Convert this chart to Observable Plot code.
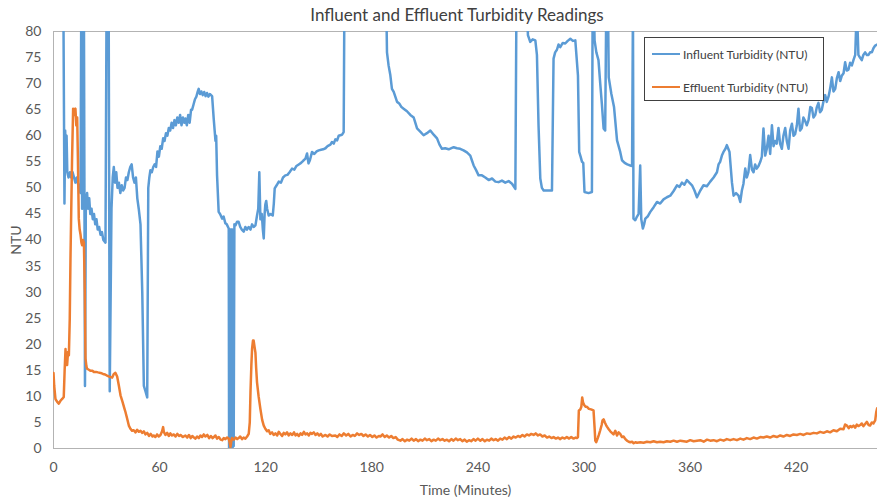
<!DOCTYPE html>
<html>
<head>
<meta charset="utf-8">
<script src="https://cdn.jsdelivr.net/npm/d3@7"></script>
<script src="https://cdn.jsdelivr.net/npm/@observablehq/plot@0.6"></script>
<style>
  html, body { margin: 0; padding: 0; background: #fff; }
  #wrap { position: relative; width: 877px; height: 500px; overflow: hidden; font-family: Lato, "Open Sans", sans-serif; }
  #title { position: absolute; top: 4px; left: 457px; transform: translateX(-50%); white-space: nowrap; font-size: 17px; color: #404040; }
  #legend { position: absolute; left: 644px; top: 37px; width: 180px; height: 64px; border: 1px solid #404040; background: #fff; box-sizing: border-box; }
  .lg-item { position: absolute; left: 7px; height: 14px; display: flex; align-items: center; font-size: 12px; color: #404040; white-space: nowrap; }
  .lg-swatch { width: 28px; height: 2.5px; margin-right: 3px; }
</style>
</head>
<body>
<div id="wrap">
  <div id="chart"></div>
  <div id="title">Influent and Effluent Turbidity Readings</div>
  <div id="legend"></div>
</div>
<script>
const xTicks = [0, 60, 120, 180, 240, 300, 360, 420];
const yTicks = [0, 5, 10, 15, 20, 25, 30, 35, 40, 45, 50, 55, 60, 65, 70, 75, 80];
const seriesNames = ["Influent Turbidity (NTU)", "Effluent Turbidity (NTU)"];
const seriesColors = ["#5b9bd5", "#ed7d31"];

// [minutes, NTU]
const influent = [
[5.6,85],[6.2,47],[6.6,61],[7.0,56],[7.4,60],[7.8,53],[8.5,52],[9.3,53],[10.0,52],[10.8,53],[11.6,52],[12.4,51],[13.2,52],[14.3,50],[15.3,49],
[15.7,85],[16.2,46],[16.6,85],[17.2,85],[17.8,12],[18.3,47],[19.0,49],[19.6,46],[20.2,48],[20.8,45],[21.5,46],[22.2,44],[22.9,45],[23.6,43],[24.3,44],
[25.0,42],[25.8,42.5],[26.6,41],[27.4,41.5],[28.2,40],[29.4,39.5],[30.0,85],[31.2,85],[31.8,11],[32.8,46],[33.5,52],[34.1,54],[34.8,51],[35.5,53],
[36.2,50],[37.0,51],[37.8,49],[38.6,50.5],[39.4,49.5],[40.2,50],[41.0,52],[41.8,51.5],[42.6,53],[43.4,54],[44.2,54.5],[45.0,52],[45.8,51],[46.6,52],
[47.4,48],[48.2,46],[49.2,43],[50.2,30],[51.1,12],[52.0,11],[53.0,9.8],[53.6,50],[54.2,52],[54.8,53.4],[55.6,53],[56.4,54],[57.2,54.5],[58.0,54],
[58.8,57],[59.6,56],[60.4,58],[61.2,57.5],[62.0,59.5],[62.8,59],[63.6,60.5],[64.4,60],[65.2,61.5],[66.0,61],[66.8,62.5],[67.6,61.5],[68.4,63],
[69.2,62],[70.0,63.5],[70.8,62.5],[71.6,64],[72.4,62],[73.2,63.5],[74.0,62.5],[74.6,63.3],[75.4,62],[76.2,64],[77.0,62.5],[77.8,65],[78.4,65],
[79.2,66],[80.0,67],[80.8,67.5],[81.6,68.5],[82.1,69],[82.8,68],[83.6,68.5],[84.4,67.8],[85.2,68.4],[86.0,67.6],[86.8,68.2],[87.6,67.5],[88.4,68],
[89.7,67.6],[90.6,63.3],[91.6,59],[92.0,60],[92.5,52.4],[93.4,45.4],[94.2,45],[95.4,44.1],[96.2,44.5],[97.2,43.2],[98.0,43],[99.1,42.2],
[99.3,0],[99.6,42],[99.8,0],[100.1,42],[100.3,0],[100.6,42],[100.8,0],[101.1,42],[101.3,0],[101.6,42],[101.9,0.5],[102.3,43],[102.9,42.8],[103.8,43.5],[104.7,43.5],[105.6,42.5],[106.5,42],
[107.6,41.6],[108.5,42.5],[109.4,42],[110.4,42.5],[111.4,42],[112.3,43],[113.2,42.5],[114.2,42.8],[115.1,44.7],[115.8,46],[116.4,53],[117.0,44],
[117.8,45],[118.4,42],[118.9,40.3],[119.4,45],[119.8,46.8],[120.3,47.5],[120.8,46],[121.7,44.7],[122.8,45],[124.0,44.7],[124.6,47],[125.1,49.9],
[126.2,50.5],[127.4,51.2],[128.6,51],[129.8,52],[131.1,52.4],[132.3,52.5],[133.5,53],[134.9,53.7],[136.2,53.5],[137.4,54.2],[138.7,54.5],[140.0,54.8],
[141.2,55.2],[142.5,55.6],[143.4,56.6],[144.2,54.7],[145.0,55.3],[146.2,56.9],[147.5,56.5],[148.8,57],[150.0,57.2],[151.3,57.3],[152.5,57.4],[153.8,57.6],
[155.0,58],[156.6,58.3],[157.5,58.8],[158.5,58.5],[159.4,59.3],[160.4,59.1],[161.3,60],[162.2,60.1],[163.2,60.2],[164.1,60.7],[164.5,85],
[188.2,85],[188.6,76],[189.5,73.5],[190.5,71.6],[191.4,69],[192.4,68.4],[193.3,67.5],[194.3,66.5],[195.5,66.2],[196.8,65.5],[198.0,65.2],[199.9,64.7],
[201.8,64],[203.7,63.5],[204.6,62.5],[205.6,61.4],[207.4,60.8],[209.3,60.1],[211.2,60.5],[213.1,61],[215.0,60.2],[216.9,59.5],[218.3,58.3],[219.7,57.5],
[221.5,57.6],[223.5,57.4],[226.3,57.8],[228.2,57.6],[230.0,57.5],[231.9,57.2],[233.8,56.8],[235.7,56.2],[236.6,55.3],[237.6,54.3],[239.0,53.4],[240.4,52.4],
[242.3,52.4],[244.2,52],[246.1,51.5],[248.0,51.8],[249.9,51.2],[251.7,51.1],[253.6,51.4],[255.5,51],[257.4,51.3],[259.3,50.8],[261.2,49.8],[261.8,85],
[267.8,85],[268.3,79.3],[269.6,78],[271.0,78.5],[272.5,78.3],[273.4,75.5],[274.3,62],[275.3,51.8],[276.2,50],[277.2,49.5],[279.5,49.5],[281.9,49.5],
[282.8,74.8],[283.7,76],[284.7,76.5],[285.6,77.5],[286.6,77],[288.0,77.8],[289.4,77.7],[290.8,78.2],[292.3,78.6],[293.7,78.2],[295.1,78.3],[296.6,71.6],
[297.3,56.9],[298.1,56],[298.9,55],[299.6,54.8],[300.3,49.2],[302.6,49],[304.5,49.2],[304.9,85],[305.6,85],[306.0,78.3],[307.0,76],[308.2,74.5],
[309.2,70],[310.1,66.2],[311.1,61.4],[312.0,61],[312.6,85],[313.6,85],[314.0,71.2],[315.5,68],[317.0,65.5],[318.7,59.1],[320.5,56.9],[321.5,55.3],
[323.0,54.8],[324.5,54.5],[326.2,54.3],[327.2,54.2],[327.7,85],[328.0,44.1],[329.0,43.8],[330.0,44.5],[330.9,45],[331.8,54.3],[332.4,44],[333.3,42.2],
[334.0,43],[334.7,44.1],[336.0,44.5],[337.5,45.4],[339.4,46.3],[341.3,47.3],[343.1,47],[345.0,47.8],[346.9,48.2],[348.8,48.5],[350.7,49.4],[352.6,50.5],
[354.0,50.2],[355.4,51],[356.8,50.6],[358.2,51.5],[359.6,51],[361.1,50.5],[362.5,49.5],[363.9,48.2],[365.8,49.5],[367.6,50.5],[369.5,50.3],[371.4,51.2],
[373.3,52],[375.2,53],[376.1,54.5],[377.0,55],[378.0,56.2],[378.9,56.9],[380.0,57.5],[380.8,58.2],[381.6,57.5],[382.3,56.9],[383.7,51],[384.6,48.5],
[386.0,49],[387.4,48.5],[388.4,47.3],[389.3,49.5],[390.2,50.8],[391.2,53.7],[392.1,52],[393.0,53],[394.0,56.3],[395.0,53.5],[395.9,53],[396.8,54.5],
[397.7,53.7],[398.7,54.2],[399.7,55],[400.6,56],[401.5,61.4],[402.5,56.2],[403.4,57.5],[404.4,60],[405.3,56.5],[406.3,62],[407.2,58],[408.1,59],
[409.0,58.5],[410.0,61.5],[410.9,58.5],[411.9,57.5],[412.8,60],[413.8,61.5],[414.7,59],[415.7,57.5],[416.6,61],[417.6,62.3],[418.5,60],[419.4,60.3],
[420.4,62],[421.3,65.2],[422.2,61],[423.2,61.5],[424.1,63.5],[425.1,62.8],[426.0,62],[427.0,63],[428.0,65.5],[428.9,65.3],[429.8,63.5],[430.8,64],
[431.7,65.5],[432.6,66.3],[433.5,64.5],[434.5,65],[435.4,66.5],[436.4,67.8],[437.3,66.5],[438.3,67.5],[439.2,69],[440.2,71.2],[441.1,68.5],[442.1,69],
[443.0,71],[444.0,72.2],[444.9,70.5],[445.8,71.5],[446.8,72],[447.7,74.1],[448.6,72.5],[449.6,72.7],[450.5,74],[451.5,73.5],[452.4,74.5],[453.4,75.5],
[454.3,85],[455.2,75.5],[456.1,75],[457.1,74.5],[458.0,75.5],[459.0,76],[460.0,75.5],[460.9,75.5],[461.8,76],[462.8,76],[463.7,76.8],[464.7,77.3],[465.8,77.5]
];

const effluent = [
[0,14.5],[0.4,12],[1.1,9.5],[2.0,9],[3.0,8.6],[4.0,9.2],[4.9,9.5],[5.8,9.9],[6.3,15],[6.8,19.1],[7.2,16],[7.7,16],[8.2,18.5],[8.7,17.9],[9.2,25],
[9.6,36.4],[10.0,45],[10.5,55.6],[11.1,65.2],[11.5,64],[11.9,64.5],[12.4,65.2],[12.9,62],[13.4,63.5],[13.8,55.6],[14.3,44.1],[14.8,42],[15.3,41],
[15.8,39.5],[16.2,39],[16.7,40],[17.2,39.5],[17.7,30],[18.1,17.3],[18.6,15.8],[19.0,15.3],[20.0,15.1],[21.0,14.9],[22.0,14.9],[22.8,14.7],[24.0,14.7],
[25.2,14.6],[26.6,14.5],[28.0,14.3],[29.2,14.2],[30.3,14],[31.5,13.8],[32.4,13.7],[33.2,13.6],[34.1,14.3],[35.0,14.5],[36.0,13.8],[37.0,12],[37.9,10.2],
[39.0,9],[40.0,7.8],[40.7,7],[41.6,5.8],[42.6,4.4],[43.5,3.8],[44.4,3.4],[45.4,3.5],[46.4,3.1],[47.3,3.6],[48.2,3.2],[49.2,3.4],[50.2,3],[51.1,3.3],
[52.0,2.7],[53.0,3],[54.0,2.4],[55.0,2.8],[56.0,2.3],[56.7,2.5],[57.6,2.2],[58.6,2.7],[59.5,2.3],[60.5,2.6],[61.4,3.3],[62.0,4.1],[62.4,3.2],[63.3,2.6],
[64.3,3],[65.2,2.4],[66.1,2.9],[67.0,2.5],[68.0,2.7],[69.0,2.3],[70.0,2.8],[71.0,2.4],[72.0,2.6],[73.0,2.2],[74.6,2.5],[75.6,2.1],[76.6,2.6],[77.6,2],
[78.5,2.4],[79.4,2.1],[80.3,1.9],[81.2,2.3],[82.2,2],[83.1,2.5],[84.0,2.2],[85.0,2.7],[85.9,2.3],[87.0,2.6],[88.0,2],[89.0,2.4],[90.0,2],[91.0,2.3],
[91.6,2.5],[92.5,1.9],[93.5,2.2],[94.5,1.7],[95.4,1.6],[96.3,2],[97.2,1.8],[98.2,2.1],[99.1,1.9],[99.6,1.2],[100.1,0.3],[100.6,1.5],[101.0,2],[102.0,1.7],
[103.0,2.1],[103.9,1.8],[104.7,2],[105.6,2.3],[106.6,1.8],[107.5,2.1],[108.5,1.9],[109.5,2.3],[110.4,2.8],[111.0,5],[111.4,10.8],[111.9,16],[112.3,19.1],
[112.8,20.7],[113.2,20.7],[113.7,19.5],[114.2,18.4],[114.6,15.5],[115.1,12.7],[116.0,10],[117.0,7.6],[118.0,5.5],[118.9,4.4],[119.8,3.8],[120.8,3.3],
[121.7,3.5],[122.6,2.8],[123.6,3.1],[124.5,2.6],[125.5,2.9],[126.5,2.5],[127.4,3.2],[128.3,2.8],[129.3,2.4],[130.2,3],[131.1,2.7],[132.1,3.1],[133.0,2.5],
[134.0,2.9],[135.0,2.6],[136.0,3.1],[136.9,2.5],[137.8,2.8],[138.7,2.4],[139.7,2.9],[140.6,2.6],[141.6,3.2],[142.5,2.7],[143.5,2.9],[144.4,2.5],[145.3,3],
[146.2,2.8],[147.2,3.1],[148.2,2.6],[149.2,2.9],[150.2,2.5],[151.2,2.8],[152.2,2.3],[153.8,2.6],[155.0,2.3],[156.2,2.7],[157.5,2.4],[159.4,2.5],[160.5,2.2],
[161.7,2.7],[163.0,2.4],[164.2,2.9],[165.5,2.5],[166.7,2.8],[168.0,2.3],[169.2,2.6],[170.4,2.4],[171.7,2.9],[172.9,2.6],[174.1,2.8],[175.3,2.4],[176.5,2.7],
[177.8,2.3],[179.0,2.6],[180.3,2.2],[181.5,2.5],[182.7,2.1],[184.0,2.4],[184.9,2.3],[186.1,2.7],[187.3,2.2],[188.5,2.5],[189.8,2.1],[191.0,2.4],[192.2,2],
[193.5,2.2],[194.7,1.7],[196.2,1.5],[197.4,1.8],[198.7,1.4],[200.0,1.7],[201.2,1.5],[202.5,1.9],[203.7,1.5],[205.0,1.8],[206.2,1.4],[207.5,1.7],[208.7,1.5],
[210.0,1.9],[211.2,1.6],[212.5,1.8],[213.7,1.4],[215.0,1.7],[216.2,1.5],[217.5,1.9],[218.7,1.6],[220.0,1.8],[221.2,1.5],[222.5,1.7],[223.7,1.4],[225.0,1.8],
[226.2,1.5],[227.5,1.9],[228.7,1.6],[230.0,1.8],[231.2,1.4],[232.5,1.7],[233.7,1.3],[235.0,1.6],[236.2,1.4],[237.5,1.8],[238.7,1.5],[240.0,1.9],[241.4,1.5],
[242.6,1.8],[243.9,1.4],[245.1,1.7],[246.4,1.5],[247.6,1.9],[248.9,1.6],[250.1,1.8],[251.4,1.5],[252.6,1.9],[253.9,1.7],[255.1,2.1],[256.4,1.8],[257.6,2.2],
[258.9,1.9],[260.2,2.3],[261.4,2.1],[262.7,2.4],[263.9,2.2],[265.2,2.6],[266.4,2.3],[267.7,2.7],[268.9,2.5],[270.2,2.8],[271.5,2.6],[272.7,2.9],[274.0,2.5],
[275.2,2.7],[276.5,2.3],[277.8,2.5],[279.1,2.1],[280.3,2.3],[281.6,2],[282.8,2.2],[284.1,1.9],[285.3,2.1],[286.6,1.8],[287.8,2.1],[289.1,1.9],[290.3,2.2],
[291.6,1.9],[292.8,2.2],[294.1,1.9],[295.3,2.1],[296.0,2],[296.6,2.2],[297.1,7.3],[297.9,7.5],[298.5,8],[299.0,9.8],[299.5,8.8],[300.2,8.3],[301.0,8],
[301.7,8],[302.8,7.6],[304.0,7.5],[305.4,7.3],[306.0,4],[306.4,1.5],[306.9,1.2],[307.8,2],[308.5,2.7],[309.2,3.5],[310.0,4.5],[310.5,5.4],[311.1,5.6],
[311.8,5],[312.5,4.5],[313.0,4.2],[314.0,3.7],[314.9,3.3],[315.8,3],[316.7,2.7],[317.7,3.4],[318.7,2.5],[319.6,3.1],[320.5,2.8],[321.5,2.2],[322.4,2.3],
[323.4,1.8],[324.3,1.5],[325.3,1.3],[326.2,1.2],[327.2,1.3],[328.1,1],[329.1,1.2],[330.0,1.1],[331.9,1.2],[333.7,1.1],[335.6,1.3],[337.5,1.2],[339.4,1.4],
[341.3,1.2],[343.1,1.3],[345.0,1.2],[346.9,1.4],[348.8,1.3],[350.7,1.5],[352.6,1.3],[354.5,1.5],[356.4,1.4],[358.2,1.3],[360.1,1.6],[362.0,1.4],[363.9,1.5],
[365.8,1.6],[367.7,1.3],[369.6,1.7],[371.4,1.5],[373.3,1.6],[375.2,1.4],[377.1,1.7],[379.0,1.5],[380.8,1.8],[382.7,1.6],[384.6,1.8],[386.5,1.6],[388.4,1.9],
[390.2,1.7],[392.1,2],[394.0,1.8],[395.9,2.1],[397.8,1.9],[399.7,2.2],[401.5,2.1],[403.4,2.3],[405.3,2.1],[407.2,2.4],[409.1,2.2],[411.0,2.5],[412.8,2.3],
[414.7,2.6],[416.6,2.4],[418.5,2.7],[420.4,2.6],[422.3,2.8],[424.2,2.6],[426.1,2.9],[428.0,2.8],[429.9,3],[431.7,2.9],[433.6,3.2],[435.5,3],[437.4,3.3],
[439.2,3.1],[441.1,3.5],[443.0,3.3],[444.9,3.8],[446.8,3.7],[447.7,4.6],[448.7,4.4],[449.7,3.9],[450.6,4.3],[451.5,4.1],[452.4,4.4],[453.4,4],[454.3,4.6],
[455.2,4.3],[456.2,4.5],[457.1,4.8],[458.0,4.3],[459.0,4.7],[460.0,5.1],[461.0,4.5],[461.8,4.4],[462.8,5],[463.7,4.8],[464.7,5.4],[465.3,7],[465.8,7.7]
];

const axisColor = "#b3b3b3";
const chart = Plot.plot({
  width: 877,
  height: 500,
  marginTop: 31,
  marginLeft: 53,
  marginRight: 0,
  marginBottom: 52,
  style: { fontFamily: "Lato, 'Open Sans', sans-serif", fontSize: "14px", color: "#595959", background: "#fff" },
  x: { domain: [0, 466], ticks: xTicks, tickSize: 0, tickPadding: 14, label: "Time (Minutes)", labelAnchor: "center", labelOffset: 46, labelArrow: "none" },
  y: { domain: [0, 80], ticks: yTicks, tickSize: 0, tickPadding: 12, label: "NTU", labelAnchor: "center", labelOffset: 42, labelArrow: "none" },
  marks: [
    Plot.ruleY([80], { stroke: axisColor }),
    Plot.ruleY([0], { stroke: axisColor }),
    Plot.ruleX([0], { stroke: axisColor }),
    Plot.line(influent, { x: d => d[0], y: d => d[1], stroke: seriesColors[0], strokeWidth: 2.5, clip: true }),
    Plot.line(effluent, { x: d => d[0], y: d => d[1], stroke: seriesColors[1], strokeWidth: 2.5, clip: true })
  ]
});
document.getElementById("chart").appendChild(chart);

const legend = document.getElementById("legend");
seriesNames.forEach((name, i) => {
  const item = document.createElement("div");
  item.className = "lg-item";
  item.style.top = (9 + i * 33) + "px";
  const sw = document.createElement("span");
  sw.className = "lg-swatch";
  sw.style.background = seriesColors[i];
  const tx = document.createElement("span");
  tx.textContent = name;
  item.appendChild(sw);
  item.appendChild(tx);
  legend.appendChild(item);
});
</script>
</body>
</html>
